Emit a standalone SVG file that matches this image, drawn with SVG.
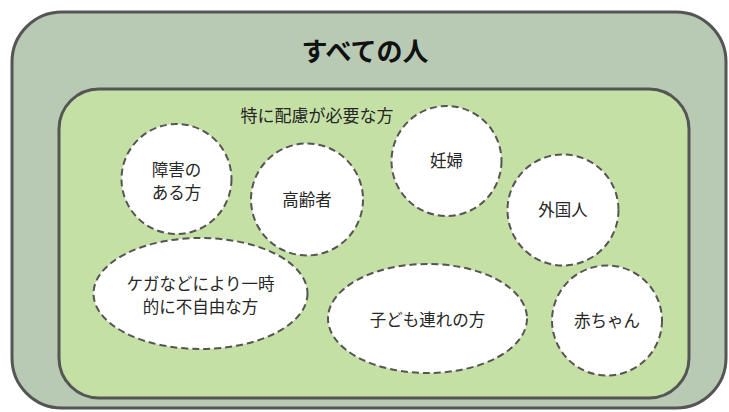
<svg xmlns="http://www.w3.org/2000/svg" width="729" height="412" viewBox="0 0 729 412">
<style>
.t{font-family:"Noto Sans CJK JP","Noto Sans",sans-serif;fill:#262626;text-anchor:middle;font-size:16.5px}
.b{stroke:#555;stroke-width:3}
.n{fill:#fff;stroke:#555;stroke-width:2;stroke-dasharray:7 4}
</style>
<rect width="729" height="412" fill="#fff"/>
<g id="all">
<rect class="b" x="12" y="12" width="714" height="396" rx="50" fill="#b8cab4"/>
<text class="t" x="365" y="61" style="font-size:26px;font-weight:bold;fill:#111">すべての人</text>
</g>
<g id="special">
<rect class="b" x="59" y="89" width="630" height="309" rx="40" fill="#c5e0a4"/>
<text class="t" x="317" y="122" style="font-size:17px">特に配慮が必要な方</text>
</g>
<g id="n1"><circle class="n" cx="176.5" cy="179" r="55"/><text class="t" x="176.5" y="176">障害の</text><text class="t" x="176.5" y="199">ある方</text></g>
<g id="n2"><circle class="n" cx="307" cy="199.5" r="56"/><text class="t" x="307" y="206">高齢者</text></g>
<g id="n3"><circle class="n" cx="446.5" cy="161" r="55"/><text class="t" x="446.5" y="167">妊婦</text></g>
<g id="n4"><circle class="n" cx="563" cy="210" r="55.5"/><text class="t" x="563" y="216">外国人</text></g>
<g id="n5"><ellipse class="n" cx="200.5" cy="293.5" rx="107" ry="55.5"/><text class="t" x="200.5" y="290">ケガなどにより一時</text><text class="t" x="200.5" y="313">的に不自由な方</text></g>
<g id="n6"><ellipse class="n" cx="427.5" cy="318.5" rx="99.5" ry="54.5"/><text class="t" x="427.5" y="326">子ども連れの方</text></g>
<g id="n7"><circle class="n" cx="607" cy="320.5" r="55"/><text class="t" x="607" y="327">赤ちゃん</text></g>
<g id="connectors"/>
</svg>
